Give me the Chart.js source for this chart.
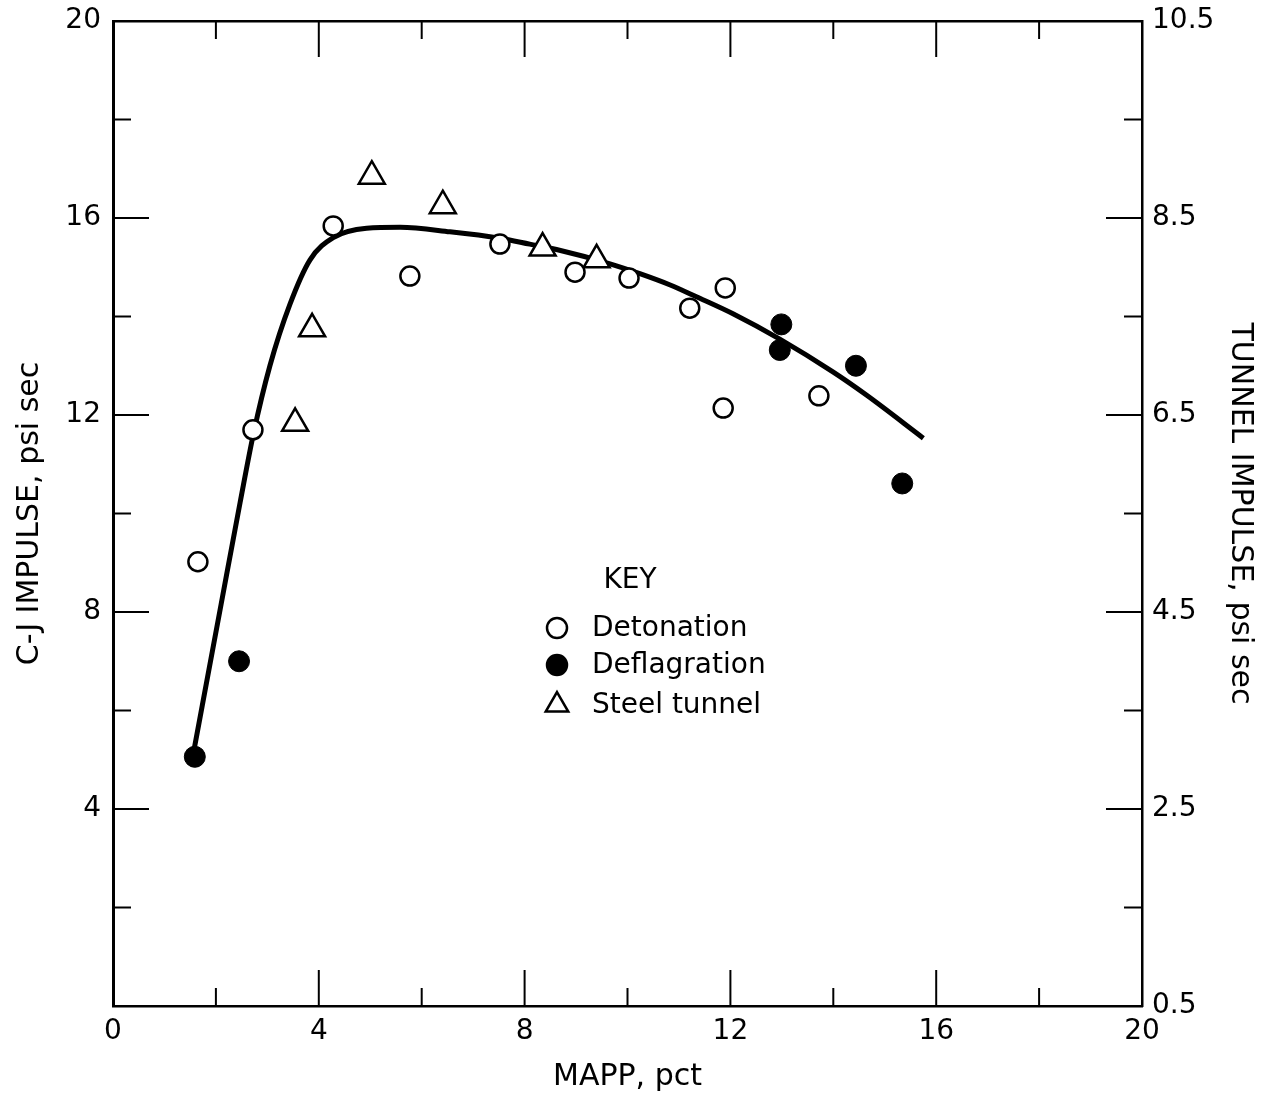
<!DOCTYPE html>
<html>
<head>
<meta charset="utf-8">
<script src="https://cdn.jsdelivr.net/npm/chart.js@4"></script>
<style>
  html, body { margin: 0; padding: 0; background: #fff; }
  #wrap { width: 1268px; height: 1095px; }
</style>
</head>
<body>
<div id="wrap"><canvas id="mychart"></canvas></div>
<script>

// MAPP, pct  vs  C-J impulse, psi sec
var detonationX = [1.65, 2.72, 4.28, 5.77, 7.52, 8.98, 10.03, 11.21, 11.90, 11.86, 13.72];
var detonationY = [9.02, 11.70, 15.84, 14.82, 15.47, 14.90, 14.78, 14.17, 14.58, 12.14, 12.39];

var deflagrationX = [1.59, 2.45, 12.99, 12.96, 14.44, 15.34];
var deflagrationY = [5.06, 7.00, 13.84, 13.32, 13.00, 10.61];

var tunnelX = [5.03, 6.41, 3.87, 3.54, 8.35, 9.40];
var tunnelY = [16.85, 16.25, 13.75, 11.83, 15.39, 15.15];

// fitted curve
var curveX = [1.55, 2.10, 2.47, 2.73, 3.05, 3.44, 3.83, 4.28, 4.93, 5.58, 6.55, 7.52, 8.10, 8.62, 9.66, 10.24, 10.83, 11.34, 12.06, 12.96, 14.00, 14.65, 15.75];
var curveY = [5.06, 8.15, 10.22, 11.62, 13.00, 14.25, 15.15, 15.60, 15.79, 15.81, 15.72, 15.59, 15.47, 15.36, 15.07, 14.87, 14.64, 14.40, 14.05, 13.54, 12.87, 12.40, 11.53];

var xTicks = [0, 4, 8, 12, 16, 20];
var leftTicks = [4, 8, 12, 16, 20];
var rightTicks = [0.5, 2.5, 4.5, 6.5, 8.5, 10.5];

function pairs(xs, ys) {
	var out = [];
	for (var i = 0; i < xs.length; i++)
		out.push({ x: xs[i], y: ys[i] });
	return out;
}

var FONT = 'DejaVu Sans';

// inward tick marks on all four sides, long at labelled values
const tickPlugin =
{
	id: 'inTicks',
	afterDatasetsDraw(chart)
	{
		const ctx = chart.ctx;
		const a = chart.chartArea;
		ctx.save();
		ctx.strokeStyle = '#000';
		ctx.lineWidth = 2;
		['x', 'x2', 'y', 'y2'].forEach(function(id)
		{
			const s = chart.scales[id];
			s.ticks.forEach(function(t)
			{
				const v = t.value;
				if (v <= 0 || v >= 20) return;
				const len = (v % 4 === 0) ? 36 : 18;
				const p = s.getPixelForValue(v);
				ctx.beginPath();
				if (id === 'x') { ctx.moveTo(p, a.bottom); ctx.lineTo(p, a.bottom - len); }
				if (id === 'x2') { ctx.moveTo(p, a.top); ctx.lineTo(p, a.top + len); }
				if (id === 'y') { ctx.moveTo(a.left, p); ctx.lineTo(a.left + len, p); }
				if (id === 'y2') { ctx.moveTo(a.right, p); ctx.lineTo(a.right - len, p); }
				ctx.stroke();
			});
		});
		ctx.restore();
	}
};

// the KEY block inside the plot
const keyPlugin =
{
	id: 'keyBox',
	afterDraw(chart)
	{
		const ctx = chart.ctx;
		const a = chart.chartArea;
		const sets = chart.data.datasets.slice(1);
		const mx = a.left + 444;
		const tx = a.left + 479;
		const rows = [628, 665, 705];
		ctx.save();
		ctx.fillStyle = '#000';
		ctx.font = '28px "' + FONT + '"';
		ctx.textBaseline = 'middle';
		ctx.textAlign = 'center';
		ctx.fillText('KEY', a.left + 517, 581);
		ctx.textAlign = 'left';
		sets.forEach(function(ds, i)
		{
			const y = rows[i];
			ctx.lineWidth = 2.5;
			ctx.strokeStyle = '#000';
			ctx.fillStyle = ds.backgroundColor;
			ctx.beginPath();
			if (ds.pointStyle === 'triangle') {
				const r = 13;
				ctx.moveTo(mx, y - r);
				ctx.lineTo(mx + r * 0.866, y + r / 2);
				ctx.lineTo(mx - r * 0.866, y + r / 2);
				ctx.closePath();
			} else {
				ctx.arc(mx, y, 10, 0, Math.PI * 2);
			}
			ctx.fill();
			ctx.stroke();
			ctx.fillStyle = '#000';
			ctx.fillText(ds.label, tx, y + 1);
		});
		ctx.restore();
	}
};

// fixed box sizes so the plot frame lands where the original has it
function fixSize(w, h)
{
	return function(scale) {
		if (w !== null) scale.width = w;
		if (h !== null) scale.height = h;
		scale.paddingTop = 0;
		scale.paddingBottom = 0;
		scale.paddingLeft = 0;
		scale.paddingRight = 0;
	};
}

function tickList(vals)
{
	return function(s) { s.ticks = vals.map(function(v) { return { value: v }; }); };
}

const data =
{
	datasets:
	[
		{
			type: 'line',
			label: 'fit',
			data: pairs(curveX, curveY),
			borderColor: '#000',
			borderWidth: 5,
			pointRadius: 0,
			cubicInterpolationMode: 'monotone',
			fill: false,
			order: 10
		},
		{
			label: 'Detonation',
			data: pairs(detonationX, detonationY),
			pointStyle: 'circle',
			pointRadius: 9.5,
			borderWidth: 2.5,
			borderColor: '#000',
			backgroundColor: '#fff',
			order: 1
		},
		{
			label: 'Deflagration',
			data: pairs(deflagrationX, deflagrationY),
			pointStyle: 'circle',
			pointRadius: 10.5,
			borderWidth: 1,
			borderColor: '#000',
			backgroundColor: '#000',
			order: 1
		},
		{
			label: 'Steel tunnel',
			data: pairs(tunnelX, tunnelY),
			pointStyle: 'triangle',
			pointRadius: 15,
			borderWidth: 2.5,
			borderColor: '#000',
			backgroundColor: '#fff',
			order: 1
		}
	]
};

const border = { display: true, color: '#000', width: 2.5 };
const noGrid = { display: false, drawTicks: false };
const evenSteps = [0, 2, 4, 6, 8, 10, 12, 14, 16, 18, 20];

const config =
{
	type: 'scatter',
	data: data,
	plugins: [tickPlugin, keyPlugin],
	options:
	{
		responsive: false,
		animation: false,
		layout: { padding: 0 },
		scales:
		{
			x:
			{
				type: 'linear', position: 'bottom', min: 0, max: 20,
				afterFit: fixSize(null, 89),
				afterBuildTicks: tickList(evenSteps),
				grid: noGrid, border: border,
				ticks: {
					color: '#000', padding: 9, maxRotation: 0, autoSkip: false,
					font: { family: FONT, size: 28 },
					callback: function(v) { return xTicks.indexOf(v) >= 0 ? String(v) : ''; }
				},
				title: { display: true, text: 'MAPP, pct', color: '#000', font: { family: FONT, size: 30 }, padding: { top: 0, bottom: 0 } }
			},
			x2:
			{
				type: 'linear', position: 'top', min: 0, max: 20,
				afterFit: fixSize(null, 21),
				afterBuildTicks: tickList(evenSteps),
				grid: noGrid, border: border,
				ticks: { display: false }
			},
			y:
			{
				type: 'linear', position: 'left', min: 0, max: 20,
				afterFit: fixSize(113, null),
				afterBuildTicks: tickList(evenSteps),
				grid: noGrid, border: { display: true, color: '#000', width: 3 },
				ticks: {
					color: '#000', padding: 12, autoSkip: false,
					font: { family: FONT, size: 28 },
					callback: function(v) { return leftTicks.indexOf(v) >= 0 ? String(v) : ''; }
				},
				title: { display: true, text: 'C-J IMPULSE, psi sec', color: '#000', font: { family: FONT, size: 30 }, padding: { top: 12, bottom: 0 } }
			},
			y2:
			{
				type: 'linear', position: 'right', min: 0, max: 20,
				afterFit: fixSize(126, null),
				afterBuildTicks: tickList(evenSteps),
				grid: noGrid, border: border,
				ticks: {
					color: '#000', padding: 10, autoSkip: false,
					font: { family: FONT, size: 28 },
					callback: function(v) {
						if (v % 4 !== 0) return '';
						var r = 0.5 + v / 2;
						return rightTicks.indexOf(r) >= 0 ? r.toFixed(1) : '';
					}
				},
				title: { display: true, text: 'TUNNEL IMPULSE, psi sec', color: '#000', font: { family: FONT, size: 30 }, padding: { top: 10, bottom: 0 } }
			}
		},
		plugins:
		{
			legend: { display: false },
			tooltip: { enabled: false },
			title: { display: false }
		}
	}
};

const canvas = document.getElementById('mychart');
canvas.width = 1268;
canvas.height = 1095;
const chart = new Chart(canvas.getContext('2d'), config);
</script>
</body>
</html>
